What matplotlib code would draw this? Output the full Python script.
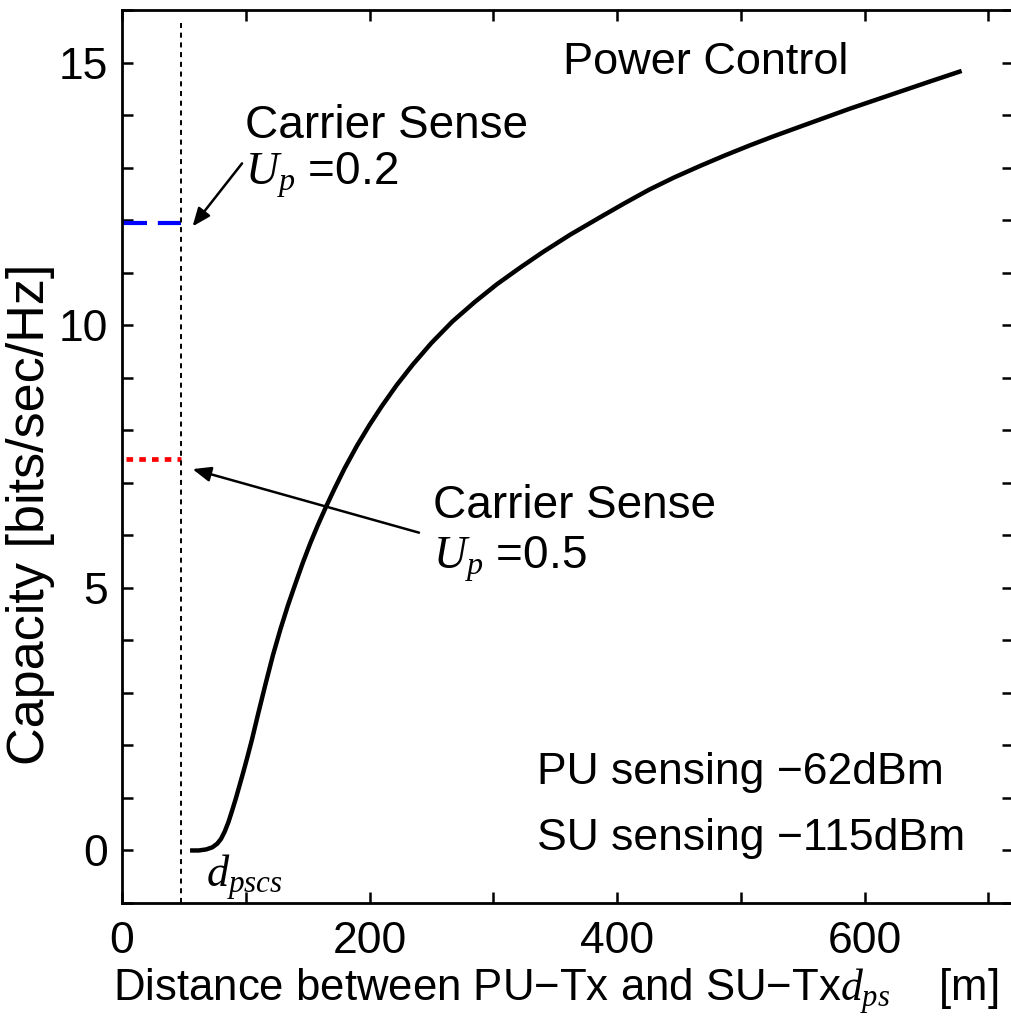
import matplotlib
matplotlib.use("Agg")
import matplotlib.pyplot as plt
from matplotlib.ticker import MultipleLocator

plt.rcParams["font.family"] = ["Liberation Sans", "DejaVu Sans"]
plt.rcParams["mathtext.fontset"] = "custom"
plt.rcParams["mathtext.it"] = "Liberation Serif:italic"
plt.rcParams["mathtext.rm"] = "Liberation Serif"

# Capacity of the power-controlled secondary link versus PU-SU distance
distance = [55, 62, 68, 73, 77, 80, 83, 86, 89, 92, 95, 98, 101, 105, 110, 116,
            122, 128, 134, 140, 146, 152, 158, 165, 172, 180, 190, 200, 210, 222,
            235, 250, 267, 285, 303, 322, 340, 362, 386, 406, 426, 446, 467, 487,
            507, 527, 548, 568, 588, 608, 628, 653, 678.5]
capacity = [0.00, 0.00, 0.02, 0.06, 0.13, 0.22, 0.36, 0.54, 0.76, 0.99, 1.24, 1.49,
            1.75, 2.11, 2.60, 3.17, 3.72, 4.21, 4.66, 5.07, 5.47, 5.84, 6.18, 6.55,
            6.90, 7.28, 7.71, 8.10, 8.46, 8.86, 9.25, 9.66, 10.07, 10.44, 10.78,
            11.10, 11.39, 11.72, 12.05, 12.32, 12.58, 12.81, 13.03, 13.23, 13.42,
            13.60, 13.78, 13.95, 14.12, 14.28, 14.44, 14.64, 14.84]

# Carrier-sense reference levels and the carrier-sense distance
d_pscs = 48
cs_cap_u02 = 11.94
cs_cap_u05 = 7.45

W, H = 1012, 1019
fig = plt.figure(figsize=(W / 100, H / 100), dpi=100)
ax = fig.add_axes([122 / W, (H - 903) / H, (1013 - 122) / W, 893 / H])

ax.plot(distance, capacity, color="black", lw=3.2, solid_joinstyle="round",
        solid_capstyle="butt")
ax.plot([0, d_pscs], [cs_cap_u02, cs_cap_u02], color="#0000ff", lw=3.0,
        dashes=(6, 2.6))
ax.plot([3, d_pscs], [cs_cap_u05, cs_cap_u05], color="#ff0000", lw=3.4,
        dashes=(1.4, 1.3))
ax.plot([d_pscs, d_pscs], [-1, 15.75], color="black", lw=1.4, dashes=(2.6, 2.4))

ax.set_xlim(0, 720)
ax.set_ylim(-1, 16)
ax.xaxis.set_major_locator(MultipleLocator(200))
ax.xaxis.set_minor_locator(MultipleLocator(100))
ax.yaxis.set_major_locator(MultipleLocator(5))
ax.yaxis.set_minor_locator(MultipleLocator(1))
for which in ("major", "minor"):
    ax.tick_params(axis="both", which=which, direction="in", length=8, width=1.8,
                   top=True, right=True, labelsize=32)
ax.tick_params(axis="x", which="major", pad=13)
ax.tick_params(axis="y", which="major", pad=10)
for sp in ax.spines.values():
    sp.set_linewidth(2.0)

ax.set_xlabel("Distance between PU\u2212Tx and SU\u2212Tx$d_{ps}$    [m]", fontsize=31.5)
ax.xaxis.set_label_coords((556 - 122) / 891, -(991 - 903) / 893, transform=ax.transAxes)
ax.xaxis.label.set_va("center")
ax.set_ylabel("Capacity [bits/sec/Hz]", fontsize=37.5)
ax.yaxis.set_label_coords(-(122 - 31) / 891, (903 - 514) / 893, transform=ax.transAxes)
ax.yaxis.label.set_va("center")

ax.text(356, 15.0, "Power Control", fontsize=32.5, va="center", ha="left")
ax.text(99, 13.8, "Carrier Sense", fontsize=33, va="center", ha="left")
ax.text(99, 12.85, "$U_p$ =0.2", fontsize=33, va="center", ha="left")
ax.text(251, 6.55, "Carrier Sense", fontsize=33, va="center", ha="left")
ax.text(251, 5.55, "$U_p$ =0.5", fontsize=33, va="center", ha="left")
ax.text(335, 1.48, "PU sensing \u221262dBm", fontsize=32, va="center", ha="left")
ax.text(335, 0.22, "SU sensing \u2212115dBm", fontsize=32, va="center", ha="left")
ax.text(68, -0.5, "$d_{pscs}$", fontsize=32, va="center", ha="left")

arrow = dict(arrowstyle="-|>,head_length=1.1,head_width=0.45", color="black",
             lw=1.8, shrinkA=0, shrinkB=0)
ax.annotate("", xy=(57, 11.88), xytext=(97, 13.08), arrowprops=arrow)
ax.annotate("", xy=(57, 7.26), xytext=(240, 6.05), arrowprops=arrow)

fig.savefig("out.png", dpi=100)
